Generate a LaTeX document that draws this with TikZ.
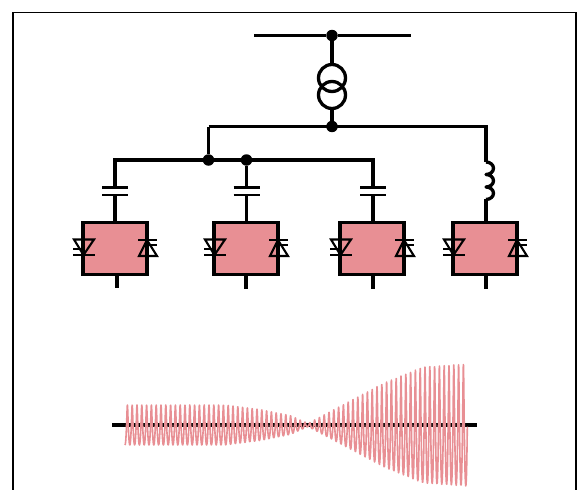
\documentclass[tikz,border=0pt]{standalone}
\definecolor{vscpink}{HTML}{E88F94}
\tikzset{
    line/.style={line width=0.066cm,line join=round},
    junction/.style={circle,fill=black,inner sep=0pt,outer sep=0pt,minimum size=0.23cm},
    vscbox/.style={draw,line,line join=miter,fill=vscpink,inner sep=0pt,outer sep=0pt,minimum width=1.28cm,minimum height=1.03cm},
    winding/.style={circle,draw,line,inner sep=0pt,outer sep=0pt,minimum size=0.54cm},
    plate/.style={line width=0.055cm},
    thyr/.style={line width=0.042cm},
    declare function={
        env(\t)=(\t<225)*20+and(\t>=225,\t<260)*(20-(\t-225)*0.129)+and(\t>=260,\t<290)*(15.5-(\t-260)*0.2)
            +and(\t>=290,\t<308)*(9.5-(\t-290)*0.444)+and(\t>=308,\t<384)*(1.5+(\t-308)*0.533)
            +and(\t>=384,\t<423)*(42+(\t-384)*0.41)+(\t>=423)*(58+(\t-423)*0.07);
    }
}
\begin{document}
\begin{tikzpicture}[x=0.02cm,y=-0.02cm]
    \useasboundingbox (0,0) rectangle (582,490);
    \draw[line width=0.026cm] (13,490) -- (13,12.5) -- (576,12.5) -- (576,490);

    \coordinate (gridL) at (254,35.5);
    \coordinate (gridR) at (411,35.5);
    \node[junction] (grid) at (332,35.5) {};
    \node[winding] (trafoA) at (332,78) {};
    \node[winding] (trafoB) at (332,95) {};
    \node[junction] (mv) at (332,126.5) {};
    \coordinate (mvL) at (208.5,126.5);
    \coordinate (mvR) at (486,126.5);
    \coordinate (coilTop) at (486,162);
    \node[junction] (feedA) at (208.5,160) {};
    \node[junction] (feedB) at (246.5,160) {};
    \coordinate (feedL) at (115,160);
    \coordinate (feedR) at (373,160);

    \node[vscbox] (vscA) at (115,248.5) {};
    \node[vscbox] (vscB) at (246,248.5) {};
    \node[vscbox] (vscC) at (372,248.5) {};
    \node[vscbox] (vscD) at (485,248.5) {};

    \coordinate (stubA) at (117,288);
    \coordinate (stubB) at (246,289);
    \coordinate (stubC) at (373,289);
    \coordinate (stubD) at (486,289);
    \coordinate (stubAtop) at (117,275);
    \coordinate (stubCtop) at (373,275);
    \coordinate (stubDtop) at (486,275);

    \draw[line] (gridL) -- (grid) -- (gridR);
    \draw[line] (grid) -- (trafoA.north);
    \draw[line] (trafoB.south) -- (mv);
    \draw[line,line join=miter] (mvL) -- (feedA);
    \draw[line,line join=miter] (mvL) -- (mvR) -- (coilTop);
    \draw[line] (coilTop) arc[start angle=90,end angle=-90,x radius=0.15cm,y radius=0.125cm]
        arc[start angle=90,end angle=-90,x radius=0.15cm,y radius=0.125cm]
        arc[start angle=90,end angle=-90,x radius=0.15cm,y radius=0.125cm] coordinate (coilEnd);
    \draw[line] (coilEnd) -- (coilEnd |- vscD.north);
    \draw[line,line join=miter] (vscA.north -| feedL) -- (feedL) -- (feedR) -- (vscC.north -| feedR);
    \draw[line] (feedB) -- (feedB |- vscB.north);
    \draw[line] (stubAtop) -- (stubA);
    \draw[line] (vscB.south) -- (stubB);
    \draw[line] (stubCtop) -- (stubC);
    \draw[line] (stubDtop) -- (stubD);

    % capacitors
    \foreach \px in {115,246.5,373} {
        \fill[white] (\px-13,188) rectangle (\px+13,194);
        \draw[plate] (\px-13,187.5) -- (\px+13,187.5);
        \draw[plate] (\px-13,195) -- (\px+13,195);
    }

    % thyristors
    \foreach \n in {vscA,vscB,vscC,vscD} {
        \begin{scope}[shift={(\n.center)}]
            \draw[thyr] (-41,-9) -- (-21,-9) -- (-31.5,6.5) -- cycle;
            \draw[thyr] (-42,6.5) -- (-20,6.5);
            \draw[thyr] (-42,0.5) -- (-32,0.5);
            \draw[thyr] (32,-8.5) -- (24,7.5) -- (42,7.5) -- cycle;
            \draw[thyr] (23,-8.5) -- (42,-8.5);
            \draw[thyr] (32,-3.5) -- (42,-3.5);
        \end{scope}
    }

    % waveform
    \coordinate (axisL) at (112,425);
    \coordinate (axisR) at (477,425);
    \draw[line] (axisL) -- (axisR);
    \draw[vscpink,line width=0.032cm,line join=round] plot[samples=1400,domain=125:467,variable=\t]
        ({\t+0.35*sin(75*mod(\t-125,4.8))},{425+env(\t)*cos(75*mod(\t-125,4.8))});
\end{tikzpicture}
\end{document}
